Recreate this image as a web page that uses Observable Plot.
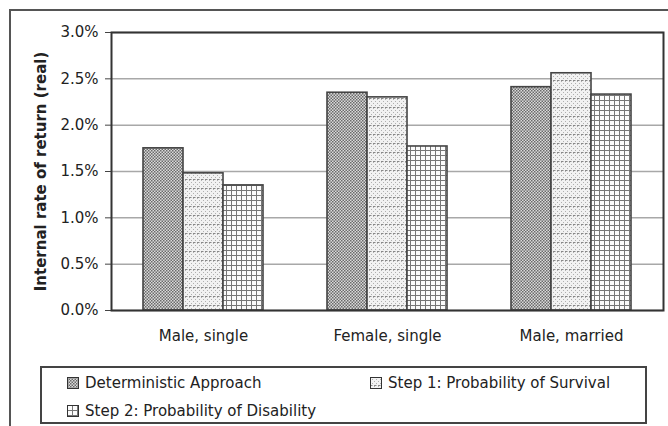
<!DOCTYPE html>
<html>
<head>
<meta charset="utf-8">
<script src="https://cdn.jsdelivr.net/npm/d3@7"></script>
<script src="https://cdn.jsdelivr.net/npm/@observablehq/plot@0.6"></script>
<style>
  html, body { margin: 0; padding: 0; background: #fff; }
  body { width: 668px; height: 426px; position: relative; overflow: hidden; font-family: "DejaVu Sans", sans-serif; }
  #outer { position: absolute; left: 9px; top: 9px; width: 700px; height: 440px; border: 2px solid #555; box-sizing: border-box; }
  #chart { position: absolute; left: 0; top: 0; }
  #legend { position: absolute; left: 40px; top: 366px; width: 607px; height: 58px; border: 2px solid #444; box-sizing: border-box; font-size: 15px; color: #222; }
  .li { position: absolute; display: flex; align-items: center; white-space: nowrap; height: 16px; }
  g[aria-label="y-axis label"] text { font-weight: bold; }
</style>
</head>
<body>
<svg width="0" height="0" style="position:absolute">
  <defs>
    <pattern id="pDet" width="3" height="3" patternUnits="userSpaceOnUse">
      <rect width="3" height="3" fill="#dadada"/>
      <rect x="0" y="0" width="1.5" height="1.5" fill="#6a6a6a"/>
      <rect x="1.5" y="1.5" width="1.5" height="1.5" fill="#6a6a6a"/>
    </pattern>
    <pattern id="pS1" width="4" height="9" patternUnits="userSpaceOnUse">
      <rect width="4" height="9" fill="#f2f2f2"/>
      <rect x="0" y="0" width="1" height="1" fill="#b0b0b0"/>
      <rect x="2" y="2" width="1" height="1" fill="#b0b0b0"/>
      <rect x="0" y="4" width="1" height="1" fill="#b0b0b0"/>
      <rect x="2" y="6" width="1" height="1" fill="#b0b0b0"/>
      <rect x="0" y="8" width="2.5" height="1" fill="#888"/>
    </pattern>
    <pattern id="pS2" width="5" height="5" patternUnits="userSpaceOnUse">
      <rect width="5" height="5" fill="#fbfbfb"/>
      <rect x="0" y="0" width="5" height="1" fill="#777"/>
      <rect x="0" y="0" width="1" height="5" fill="#777"/>
    </pattern>
  </defs>
</svg>
<div id="outer"></div>
<div id="chart"></div>
<div id="legend"></div>
<script>
const categories = ["Male, single", "Female, single", "Male, married"];
const seriesNames = ["Deterministic Approach", "Step 1: Probability of Survival", "Step 2: Probability of Disability"];
const deterministic = [0.0175, 0.0235, 0.0241];
const step1Survival = [0.0148, 0.0230, 0.0256];
const step2Disability = [0.0135, 0.0177, 0.0233];
const yTicks = [0, 0.005, 0.01, 0.015, 0.02, 0.025, 0.03];
const yLabel = "Internal rate of return (real)";

const patternIds = ["url(#pDet)", "url(#pS1)", "url(#pS2)"];
const seriesValues = [deterministic, step1Survival, step2Disability];
const data = [];
categories.forEach((c, i) => seriesNames.forEach((s, j) => data.push({category: c, series: s, value: seriesValues[j][i]})));

const plot = Plot.plot({
  width: 668,
  height: 355,
  marginLeft: 110,
  marginRight: 5,
  marginTop: 32,
  marginBottom: 45,
  style: {fontFamily: "'DejaVu Sans', sans-serif", fontSize: "15px", color: "#222", background: "transparent"},
  fx: {domain: categories, padding: 0, label: null},
  x: {domain: seriesNames, paddingInner: 0, paddingOuter: 0.745, axis: null},
  y: {domain: [0, 0.03], label: null},
  color: {domain: seriesNames, range: patternIds},
  marks: [
    Plot.ruleY(yTicks, {stroke: "#a8a8a8", strokeWidth: 1.5}),
    Plot.axisY({ticks: yTicks, tickFormat: d3.format(".1%"), tickSize: 6, tickPadding: 7, fontSize: 15, stroke: "#444", label: yLabel, labelAnchor: "center", labelOffset: 76, labelArrow: "none"}),
    Plot.axisFx({anchor: "bottom", tickSize: 0, tickPadding: 20, fontSize: 15, label: null}),
    Plot.barY(data, {fx: "category", x: "series", y: "value", fill: "series", stroke: "#444", strokeWidth: 1.6}),
    Plot.frame({facet: "super", stroke: "#333", strokeWidth: 2})
  ]
});
document.getElementById("chart").appendChild(plot);

const legend = document.getElementById("legend");
const pos = [[25, 7], [328, 7], [25, 35]];
seriesNames.forEach((s, j) => {
  const el = document.createElement("div");
  el.className = "li";
  el.style.left = pos[j][0] + "px";
  el.style.top = pos[j][1] + "px";
  el.innerHTML = `<svg width="12" height="12" style="margin-right:6px"><rect x="0.5" y="0.5" width="11" height="11" fill="${patternIds[j]}" stroke="#333"/></svg><span>${s}</span>`;
  legend.appendChild(el);
});
</script>
</body>
</html>
